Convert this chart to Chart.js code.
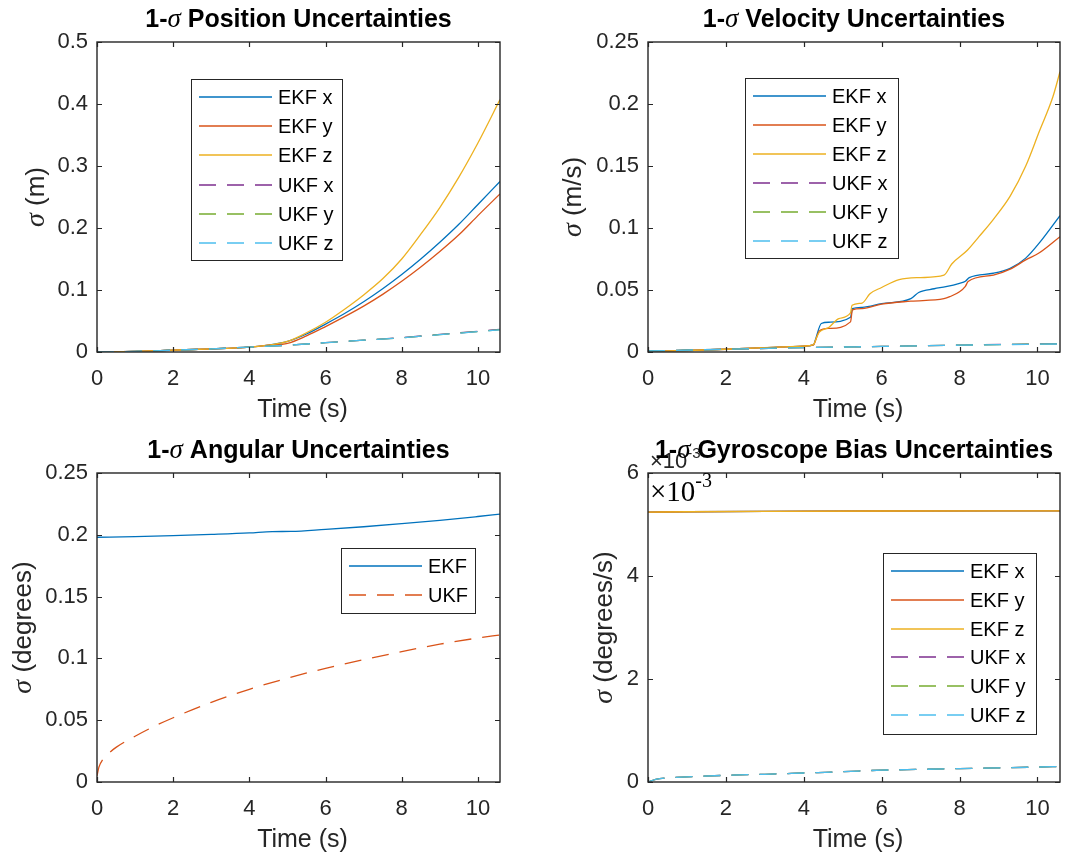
<!DOCTYPE html>
<html>
<head>
<meta charset="utf-8">
<title>1-σ Uncertainties</title>
<script src="https://cdn.jsdelivr.net/npm/chart.js@4.4.0/dist/chart.umd.min.js"></script>
<style>
  body { margin: 0; background: #fff; }
  #fig { position: relative; width: 1071px; height: 861px; background: #fff; }
  #fig canvas { position: absolute; }
</style>
</head>
<body>
<div id="fig">
  <canvas id="pos" width="540" height="430" style="left:0px;top:0px"></canvas>
  <canvas id="vel" width="531" height="430" style="left:540px;top:0px"></canvas>
  <canvas id="ang" width="540" height="431" style="left:0px;top:430px"></canvas>
  <canvas id="gyro" width="531" height="431" style="left:540px;top:430px"></canvas>
</div>
<script>
// ---- data ----
const tEnd = 10.58;
const xTicks = [0, 2, 4, 6, 8, 10];

// position (m)
const posTime = [0, 1, 2, 3, 4, 4.5, 5, 5.5, 6, 6.5, 7, 7.5, 8, 8.5, 9, 9.5, 10, 10.58];
const posEkfX = [0, 0.001, 0.003, 0.005, 0.008, 0.011, 0.017, 0.029, 0.045, 0.062, 0.081, 0.102, 0.125, 0.150, 0.177, 0.206, 0.238, 0.275];
const posEkfY = [0, 0.001, 0.003, 0.005, 0.008, 0.011, 0.014, 0.026, 0.041, 0.057, 0.074, 0.093, 0.114, 0.137, 0.162, 0.189, 0.220, 0.255];
const posEkfZ = [0, 0.001, 0.003, 0.005, 0.008, 0.011, 0.017, 0.031, 0.048, 0.069, 0.092, 0.118, 0.150, 0.190, 0.233, 0.282, 0.337, 0.407];
const posUkfTime = [0, 1, 2, 3, 4, 5, 6, 7, 8, 9, 10, 10.58];
const posUkfX = [0, 0.001, 0.003, 0.005, 0.008, 0.011, 0.015, 0.019, 0.0232, 0.0283, 0.0334, 0.0366];
const posUkfY = [0, 0.001, 0.003, 0.005, 0.008, 0.011, 0.015, 0.019, 0.0230, 0.0280, 0.0330, 0.0360];
const posUkfZ = [0, 0.001, 0.003, 0.005, 0.008, 0.011, 0.015, 0.019, 0.0229, 0.0279, 0.0328, 0.0358];

// velocity (m/s)
const velXTime = [0, 1, 2, 3, 4, 4.25, 4.3, 4.45, 4.65, 5.2, 5.25, 5.5, 6, 6.75, 6.95, 7.35, 7.65, 8, 8.15, 8.25, 8.87, 9.3, 9.7, 10.05, 10.58];
const velX = [0.0005, 0.0012, 0.0022, 0.0035, 0.0048, 0.0058, 0.010, 0.023, 0.024, 0.028, 0.035, 0.036, 0.039, 0.043, 0.048, 0.051, 0.0527, 0.0554, 0.057, 0.060, 0.0635, 0.0675, 0.0757, 0.088, 0.110];
const velYTime = [0, 1, 2, 3, 4, 4.25, 4.3, 4.4, 4.65, 5.2, 5.25, 5.5, 6, 6.75, 7.6, 7.75, 8, 8.15, 8.22, 8.87, 9.3, 9.7, 10.05, 10.58];
const velY = [0.0005, 0.0012, 0.0022, 0.0035, 0.0048, 0.0058, 0.009, 0.017, 0.019, 0.0243, 0.034, 0.035, 0.0386, 0.041, 0.043, 0.0446, 0.0486, 0.053, 0.0568, 0.062, 0.0668, 0.0743, 0.080, 0.093];
const velZTime = [0, 1, 2, 3, 4, 4.25, 4.32, 4.4, 4.65, 4.9, 5.2, 5.24, 5.5, 5.7, 6, 6.45, 7, 7.6, 7.8, 8.2, 8.5, 8.87, 9.3, 9.7, 10.05, 10.4, 10.58];
const velZ = [0.0005, 0.0012, 0.0022, 0.0035, 0.0048, 0.006, 0.011, 0.016, 0.020, 0.027, 0.0315, 0.0377, 0.0395, 0.047, 0.052, 0.0584, 0.060, 0.062, 0.071, 0.082, 0.093, 0.107, 0.1257, 0.150, 0.178, 0.206, 0.226];
const velUkfTime = [0, 2, 4, 6, 8, 10.58];
const velUkfX = [0.0008, 0.0022, 0.0035, 0.0045, 0.0056, 0.0067];
const velUkfY = [0.0008, 0.0022, 0.0035, 0.0045, 0.0055, 0.0066];
const velUkfZ = [0.0008, 0.0022, 0.0035, 0.0045, 0.0055, 0.0065];

// attitude (degrees)
const angEkfTime = [0, 1, 2, 3, 4, 4.6, 5.1, 6, 7, 8, 9, 10, 10.58];
const angEkf = [0.198, 0.1985, 0.1993, 0.2003, 0.2015, 0.2026, 0.2027, 0.2044, 0.2065, 0.209, 0.2117, 0.2148, 0.2167];
const angUkfTime = [0, 0.05, 0.15, 0.3, 0.5, 1, 1.5, 2, 3, 4, 5, 6, 7, 8, 9, 10, 10.58];
const angUkf = [0.005, 0.012, 0.018, 0.023, 0.028, 0.037, 0.045, 0.052, 0.0645, 0.075, 0.084, 0.092, 0.099, 0.1055, 0.1115, 0.1165, 0.119];

// gyro bias (degrees/s)
const gyroEkfTime = [0, 1, 3, 6, 10.58];
const gyroEkfX = [0.00524, 0.005248, 0.005256, 0.005262, 0.005265];
const gyroEkfY = [0.00524, 0.005248, 0.005256, 0.005262, 0.005265];
const gyroEkfZ = [0.00524, 0.005248, 0.005256, 0.005262, 0.005265];
const gyroUkfTime = [0, 0.2, 0.5, 1, 2, 3, 4, 5, 6, 7, 8, 9, 10, 10.58];
const gyroUkfX = [0, 0.00005, 0.00008, 0.0001, 0.00013, 0.00015, 0.000175, 0.0002, 0.00023, 0.000245, 0.00026, 0.000275, 0.00029, 0.0003];
const gyroUkfY = [0, 0.00005, 0.00008, 0.0001, 0.00013, 0.00015, 0.000175, 0.0002, 0.00023, 0.000245, 0.00026, 0.000275, 0.00029, 0.0003];
const gyroUkfZ = [0, 0.00005, 0.00008, 0.0001, 0.00013, 0.00015, 0.000175, 0.0002, 0.00023, 0.000245, 0.00026, 0.000275, 0.00029, 0.0003];

const legendXYZ = ['EKF x', 'EKF y', 'EKF z', 'UKF x', 'UKF y', 'UKF z'];
const legendAng = ['EKF', 'UKF'];

// ---- style ----
const C = { blue: '#0072BD', red: '#D95319', yellow: '#EDB120', purple: '#7E2F8E', green: '#77AC30', cyan: '#4DBEEE' };
const SANS = '"Liberation Sans", Arial, sans-serif';
const SERIF = '"Liberation Serif", "Times New Roman", serif';
const AX = '#262626';
const DASH = [17, 11];

// text extras per canvas (title, y label, legend box)
const extras = {};

function drawRuns(ctx, runs, x, y) {
  let w = 0;
  runs.forEach(r => { ctx.font = r.font; w += ctx.measureText(r.text).width; });
  let cx = x - w / 2;
  runs.forEach(r => {
    ctx.font = r.font;
    ctx.fillText(r.text, cx, y);
    cx += ctx.measureText(r.text).width;
  });
}

const matlabAxes = {
  id: 'matlabAxes',
  afterDatasetsDraw(chart) {
    const ex = extras[chart.canvas.id];
    const ctx = chart.ctx;
    const a = chart.chartArea;
    const xs = chart.scales.x, ys = chart.scales.y;
    ctx.save();
    // box + inward ticks on all four sides
    ctx.strokeStyle = AX;
    ctx.lineWidth = 1.4;
    ctx.setLineDash([]);
    ctx.strokeRect(a.left, a.top, a.right - a.left, a.bottom - a.top);
    ctx.lineWidth = 1.2;
    ctx.beginPath();
    xs.ticks.forEach(t => {
      const p = Math.round(xs.getPixelForValue(t.value)) + 0.5;
      ctx.moveTo(p, a.bottom); ctx.lineTo(p, a.bottom - 5);
      ctx.moveTo(p, a.top); ctx.lineTo(p, a.top + 5);
    });
    ys.ticks.forEach(t => {
      const p = Math.round(ys.getPixelForValue(t.value)) + 0.5;
      ctx.moveTo(a.left, p); ctx.lineTo(a.left + 5, p);
      ctx.moveTo(a.right, p); ctx.lineTo(a.right - 5, p);
    });
    ctx.stroke();

    // legend box
    const lg = ex.legend;
    ctx.fillStyle = '#fff';
    ctx.fillRect(lg.x, lg.y, lg.w, lg.h);
    ctx.strokeStyle = AX;
    ctx.lineWidth = 1;
    ctx.strokeRect(lg.x + 0.5, lg.y + 0.5, lg.w, lg.h);
    ctx.font = '20px ' + SANS;
    ctx.textAlign = 'left';
    ctx.textBaseline = 'middle';
    chart.data.datasets.forEach((ds, i) => {
      const ry = Math.round(lg.y + 18 + i * lg.step);
      ctx.strokeStyle = ds.borderColor;
      ctx.lineWidth = 1.6;
      ctx.setLineDash(ds.borderDash || []);
      ctx.beginPath();
      ctx.moveTo(lg.x + 8, ry);
      ctx.lineTo(lg.x + 81, ry);
      ctx.stroke();
      ctx.setLineDash([]);
      ctx.fillStyle = '#000';
      ctx.fillText(ds.label, lg.x + 87, ry + 1);
    });
    ctx.restore();
  },
  afterDraw(chart) {
    const ex = extras[chart.canvas.id];
    const ctx = chart.ctx;
    const a = chart.chartArea;
    const cx = (a.left + a.right) / 2;
    ctx.save();
    ctx.textAlign = 'left';
    ctx.textBaseline = 'alphabetic';

    // exponent labels (gyro panel)
    if (ex.expo) {
      ctx.fillStyle = AX;
      ctx.font = '22px ' + SANS;
      ctx.fillText('\u00d710', a.left + 2, 38);
      const w1 = ctx.measureText('\u00d710').width;
      ctx.font = '15px ' + SANS;
      ctx.fillText('-3', a.left + 2 + w1, 28);
      ctx.fillStyle = '#000';
      ctx.font = '29px ' + SERIF;
      ctx.fillText('\u00d710', a.left + 2, 71);
      const w2 = ctx.measureText('\u00d710').width;
      ctx.font = '20px ' + SERIF;
      ctx.fillText('-3', a.left + 2 + w2, 57);
    }

    // title
    ctx.fillStyle = '#000';
    drawRuns(ctx, [
      { text: '1-', font: 'bold 25px ' + SANS },
      { text: '\u03c3', font: 'italic 27px ' + SERIF },
      { text: ' ' + ex.title, font: 'bold 25px ' + SANS }
    ], cx, ex.titleY);

    // x label
    ctx.fillStyle = AX;
    drawRuns(ctx, [{ text: 'Time (s)', font: '25px ' + SANS }], cx + 4, 417);

    // y label, rotated
    ctx.translate(ex.yLabelX, (a.top + a.bottom) / 2);
    ctx.rotate(-Math.PI / 2);
    drawRuns(ctx, [
      { text: '\u03c3', font: 'italic 28px ' + SERIF },
      { text: ' ' + ex.yLabel, font: '26px ' + SANS }
    ], 0, 0);
    ctx.restore();
  }
};

function series(label, t, v, color, dashed) {
  return { label, t, v, color, dashed };
}

function buildChart(id, cfg) {
  const canvas = document.getElementById(id);
  const W = canvas.width, H = canvas.height;
  const area = cfg.area;
  extras[id] = cfg;
  const n = cfg.series.length;
  return new Chart(canvas, {
    type: 'line',
    data: {
      datasets: cfg.series.map((s, i) => ({
        label: s.label,
        data: s.t.map((t, k) => ({ x: t, y: s.v[k] })),
        borderColor: s.color,
        borderWidth: 1.3,
        borderDash: s.dashed ? DASH : [],
        pointRadius: 0,
        fill: false,
        cubicInterpolationMode: 'monotone',
        order: n - i
      }))
    },
    options: {
      responsive: false,
      animation: false,
      devicePixelRatio: 1,
      events: [],
      layout: { padding: { left: 0, top: area.top, right: W - area.right, bottom: 0 } },
      plugins: { legend: { display: false }, tooltip: { enabled: false }, title: { display: false } },
      scales: {
        x: {
          type: 'linear', min: 0, max: tEnd,
          grid: { display: false, drawTicks: false },
          border: { display: false },
          afterBuildTicks: s => { s.ticks = xTicks.map(v => ({ value: v })); },
          ticks: {
            padding: 14, color: AX, maxRotation: 0, autoSkip: false,
            font: { family: SANS, size: 22 },
            callback: v => String(v)
          },
          afterFit: s => { s.height = H - area.bottom; }
        },
        y: {
          type: 'linear', min: 0, max: cfg.yMax,
          grid: { display: false, drawTicks: false },
          border: { display: false },
          ticks: {
            stepSize: cfg.yStep, padding: 9, color: AX, autoSkip: false,
            font: { family: SANS, size: 22 },
            callback: cfg.yFmt
          },
          afterFit: s => { s.width = area.left; }
        }
      }
    },
    plugins: [matlabAxes]
  });
}

const fmt = v => String(+v.toFixed(4));

buildChart('pos', {
  title: 'Position Uncertainties', titleY: 27,
  yLabel: '(m)', yLabelX: 44,
  area: { left: 97, top: 42, right: 500, bottom: 352 },
  yMax: 0.5, yStep: 0.1, yFmt: fmt,
  legend: { x: 191, y: 79, w: 151, h: 181, step: 29.2 },
  series: [
    series(legendXYZ[0], posTime, posEkfX, C.blue),
    series(legendXYZ[1], posTime, posEkfY, C.red),
    series(legendXYZ[2], posTime, posEkfZ, C.yellow),
    series(legendXYZ[3], posUkfTime, posUkfX, C.purple, true),
    series(legendXYZ[4], posUkfTime, posUkfY, C.green, true),
    series(legendXYZ[5], posUkfTime, posUkfZ, C.cyan, true)
  ]
});

buildChart('vel', {
  title: 'Velocity Uncertainties', titleY: 27,
  yLabel: '(m/s)', yLabelX: 41,
  area: { left: 108, top: 42, right: 520, bottom: 352 },
  yMax: 0.25, yStep: 0.05, yFmt: fmt,
  legend: { x: 205, y: 78, w: 153, h: 180, step: 29 },
  series: [
    series(legendXYZ[0], velXTime, velX, C.blue),
    series(legendXYZ[1], velYTime, velY, C.red),
    series(legendXYZ[2], velZTime, velZ, C.yellow),
    series(legendXYZ[3], velUkfTime, velUkfX, C.purple, true),
    series(legendXYZ[4], velUkfTime, velUkfY, C.green, true),
    series(legendXYZ[5], velUkfTime, velUkfZ, C.cyan, true)
  ]
});

buildChart('ang', {
  title: 'Angular Uncertainties', titleY: 28,
  yLabel: '(degrees)', yLabelX: 31,
  area: { left: 97, top: 43, right: 500, bottom: 352 },
  yMax: 0.25, yStep: 0.05, yFmt: fmt,
  legend: { x: 341, y: 118, w: 134, h: 65, step: 29 },
  series: [
    series(legendAng[0], angEkfTime, angEkf, C.blue),
    series(legendAng[1], angUkfTime, angUkf, C.red, true)
  ]
});

buildChart('gyro', {
  title: 'Gyroscope Bias Uncertainties', titleY: 28,
  yLabel: '(degrees/s)', yLabelX: 72,
  area: { left: 108, top: 43, right: 520, bottom: 352 },
  yMax: 0.006, yStep: 0.002, yFmt: v => String(+(v * 1000).toFixed(3)),
  legend: { x: 343, y: 123, w: 153, h: 181, step: 28.8 },
  expo: true,
  series: [
    series(legendXYZ[0], gyroEkfTime, gyroEkfX, C.blue),
    series(legendXYZ[1], gyroEkfTime, gyroEkfY, C.red),
    series(legendXYZ[2], gyroEkfTime, gyroEkfZ, C.yellow),
    series(legendXYZ[3], gyroUkfTime, gyroUkfX, C.purple, true),
    series(legendXYZ[4], gyroUkfTime, gyroUkfY, C.green, true),
    series(legendXYZ[5], gyroUkfTime, gyroUkfZ, C.cyan, true)
  ]
});
</script>
</body>
</html>
